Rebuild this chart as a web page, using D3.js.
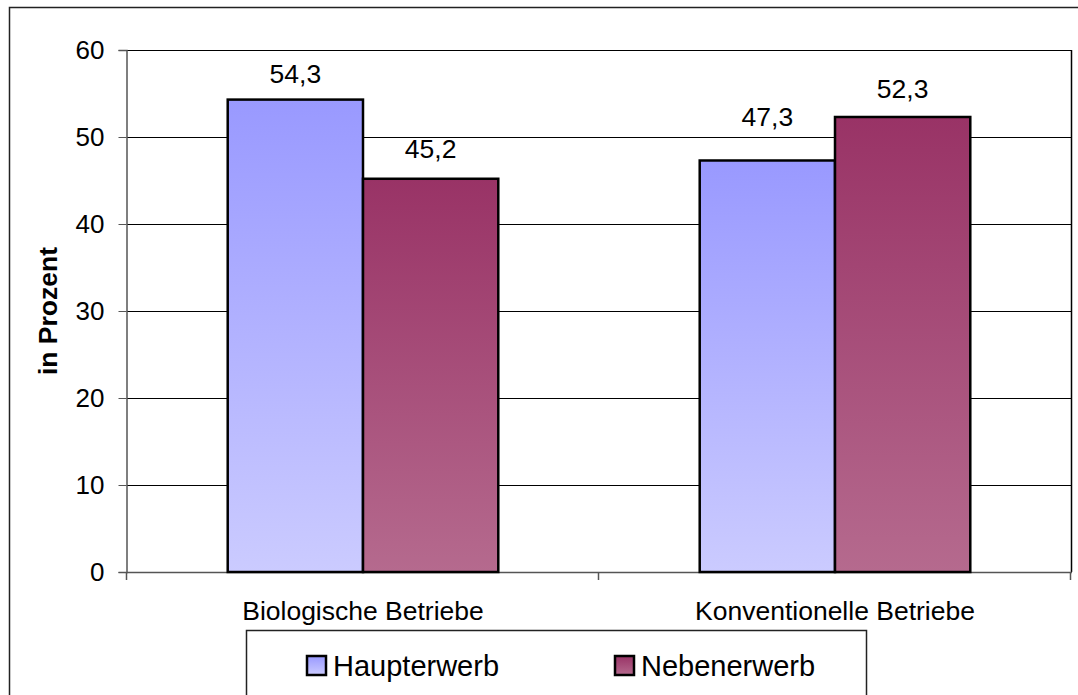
<!DOCTYPE html>
<html>
<head>
<meta charset="utf-8">
<script src="https://cdn.jsdelivr.net/npm/d3@7"></script>
<style>
  html, body { margin: 0; padding: 0; background: #fff; }
  svg { display: block; font-family: "Liberation Sans", Arial, sans-serif; }
</style>
</head>
<body>
<svg id="chart" width="1078" height="695"></svg>
<script>
// Betriebsformen nach Erwerbsart
const categories = ["Biologische Betriebe", "Konventionelle Betriebe"];
const seriesNames = ["Haupterwerb", "Nebenerwerb"];
const haupterwerb = [54.3, 47.3];
const nebenerwerb = [45.2, 52.3];
const yTicks = [0, 10, 20, 30, 40, 50, 60];

const seriesValues = [haupterwerb, nebenerwerb];
const fills = [
  { top: "#9999ff", bottom: "#cbcbff" },
  { top: "#993366", bottom: "#b56a8e" }
];
// distance of each value label's baseline above its bar [series][category]
const labelGap = [[17, 34], [21, 19]];

const svg = d3.select("#chart");
const plot = { left: 127, top: 50, right: 1071, bottom: 572 };

// outer chart frame
svg.append("rect")
  .attr("x", 9.5).attr("y", 7.5)
  .attr("width", 1200).attr("height", 900)
  .attr("fill", "#fff").attr("stroke", "#222").attr("stroke-width", 1.5);

// gradients
const defs = svg.append("defs");
fills.forEach((f, i) => {
  const g = defs.append("linearGradient")
    .attr("id", "grad" + i)
    .attr("x1", 0).attr("y1", 0).attr("x2", 0).attr("y2", 1);
  g.append("stop").attr("offset", "0%").attr("stop-color", f.top);
  g.append("stop").attr("offset", "100%").attr("stop-color", f.bottom);
});

const x0 = d3.scaleBand()
  .domain(categories)
  .range([plot.left, plot.right])
  .paddingInner(0).paddingOuter(0);

const groupWidth = x0.bandwidth() * 270 / 471;
const x1 = d3.scaleBand()
  .domain(seriesNames)
  .range([0, groupWidth]);

const y = d3.scaleLinear().domain([0, 60]).range([plot.bottom, plot.top]);

// gridlines
svg.append("g")
  .selectAll("line")
  .data(yTicks.filter(t => t > 0))
  .join("line")
  .attr("x1", plot.left).attr("x2", plot.right)
  .attr("y1", d => Math.round(y(d)) + 0.5).attr("y2", d => Math.round(y(d)) + 0.5)
  .attr("stroke", "#000").attr("stroke-width", 1);

// plot area right border
svg.append("line")
  .attr("x1", plot.right + 0.5).attr("x2", plot.right + 0.5)
  .attr("y1", plot.top).attr("y2", plot.bottom)
  .attr("stroke", "#000").attr("stroke-width", 1.5);

// y axis
const yAxis = d3.axisLeft(y).tickValues(yTicks).tickSize(8).tickPadding(14);
const gy = svg.append("g")
  .attr("transform", `translate(${plot.left - 0.5},0)`)
  .call(yAxis);
gy.select(".domain").attr("stroke", "#555").attr("stroke-width", 1.5);
gy.selectAll(".tick line").attr("stroke", "#555");
gy.selectAll(".tick text")
  .attr("font-size", 26).attr("fill", "#000")
  .attr("font-family", "Liberation Sans, Arial, sans-serif");

// x axis line with category separators
const xAxisG = svg.append("g");
xAxisG.append("line")
  .attr("x1", plot.left).attr("x2", plot.right + 1)
  .attr("y1", plot.bottom + 0.5).attr("y2", plot.bottom + 0.5)
  .attr("stroke", "#555").attr("stroke-width", 1.5);
const sepX = [plot.left, x0(categories[1]), plot.right];
xAxisG.selectAll("line.sep")
  .data(sepX)
  .join("line")
  .attr("class", "sep")
  .attr("x1", d => d - 0.5).attr("x2", d => d - 0.5)
  .attr("y1", plot.bottom).attr("y2", plot.bottom + 8)
  .attr("stroke", "#555").attr("stroke-width", 1.5);

// category labels
xAxisG.selectAll("text")
  .data(categories)
  .join("text")
  .attr("x", d => x0(d) + x0.bandwidth() / 2)
  .attr("y", 620)
  .attr("text-anchor", "middle")
  .attr("font-size", 26.5)
  .attr("fill", "#000")
  .text(d => d);

// bars
const groups = svg.append("g")
  .selectAll("g")
  .data(categories)
  .join("g")
  .attr("transform", d => `translate(${x0(d) + (x0.bandwidth() - groupWidth) / 2},0)`);

const cellData = (d, ci) => seriesNames.map((s, si) => ({ s, si, ci, v: seriesValues[si][ci] }));

groups.selectAll("rect")
  .data(cellData)
  .join("rect")
  .attr("x", d => x1(d.s))
  .attr("y", d => y(d.v))
  .attr("width", x1.bandwidth())
  .attr("height", d => y(0) - y(d.v))
  .attr("fill", d => `url(#grad${d.si})`)
  .attr("stroke", "#000")
  .attr("stroke-width", 2.5);

// value labels
groups.selectAll("text")
  .data(cellData)
  .join("text")
  .attr("x", d => x1(d.s) + x1.bandwidth() / 2)
  .attr("y", d => y(d.v) - labelGap[d.si][d.ci])
  .attr("text-anchor", "middle")
  .attr("font-size", 26.5)
  .attr("fill", "#000")
  .text(d => d3.format(".1f")(d.v).replace(".", ","));

// y axis title
svg.append("text")
  .attr("transform", `translate(57,${(plot.top + plot.bottom) / 2}) rotate(-90)`)
  .attr("text-anchor", "middle")
  .attr("font-size", 26.5)
  .attr("font-weight", "bold")
  .attr("fill", "#000")
  .text("in Prozent");

// legend
const legend = svg.append("g");
legend.append("rect")
  .attr("x", 246.5).attr("y", 630.5)
  .attr("width", 620).attr("height", 120)
  .attr("fill", "#fff").attr("stroke", "#222").attr("stroke-width", 1.5);
const legendX = [307, 615];
const items = legend.selectAll("g")
  .data(seriesNames)
  .join("g")
  .attr("transform", (d, i) => `translate(${legendX[i]},656)`);
items.append("rect")
  .attr("x", 0).attr("y", 0).attr("width", 19).attr("height", 19)
  .attr("fill", (d, i) => `url(#grad${i})`)
  .attr("stroke", "#000").attr("stroke-width", 2.5);
items.append("text")
  .attr("x", 26).attr("y", 20)
  .attr("font-size", 29)
  .attr("fill", "#000")
  .text(d => d);
</script>
</body>
</html>
